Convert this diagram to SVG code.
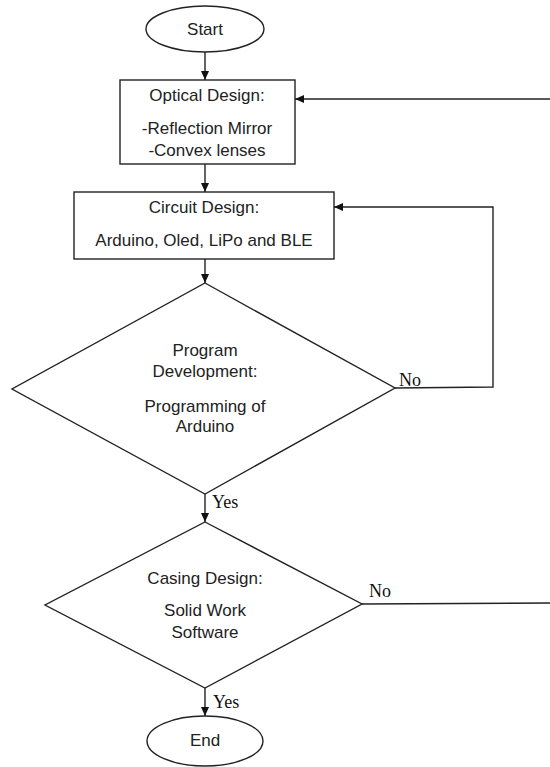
<svg xmlns="http://www.w3.org/2000/svg" width="550" height="767" viewBox="0 0 550 767">
<style>
.shape{fill:#fff;stroke:#222;stroke-width:1.4}
.t{font-family:"Liberation Sans",Arial,sans-serif;font-size:17px;fill:#222;text-anchor:middle}
.lbl{font-family:"Liberation Serif","Times New Roman",serif;font-size:18px;fill:#111}
.c{fill:none;stroke:#222;stroke-width:1.4}
</style>
<defs>
<marker id="ah" markerUnits="userSpaceOnUse" markerWidth="10" markerHeight="10" refX="9" refY="5" orient="auto">
<path d="M0,1 L9,5 L0,9 Z" fill="#111"/>
</marker>
</defs>
<rect width="550" height="767" fill="#fff"/>
<g id="connectors">
<line class="c" x1="205" y1="52" x2="205" y2="80" marker-end="url(#ah)"/>
<line class="c" x1="205" y1="164" x2="205" y2="192" marker-end="url(#ah)"/>
<line class="c" x1="205" y1="259" x2="205" y2="283" marker-end="url(#ah)"/>
<line class="c" x1="205" y1="494" x2="205" y2="522" marker-end="url(#ah)"/>
<line class="c" x1="205" y1="688" x2="205" y2="716" marker-end="url(#ah)"/>
<polyline class="c" points="395,388 493,387 493,207 334,207" marker-end="url(#ah)"/>
<line class="c" x1="362" y1="604" x2="550" y2="603"/>
<line class="c" x1="550" y1="99" x2="295" y2="99" marker-end="url(#ah)"/>
<text class="lbl" x="399" y="386">No</text>
<text class="lbl" x="369" y="597">No</text>
<text class="lbl" x="212" y="508">Yes</text>
<text class="lbl" x="213" y="708">Yes</text>
</g>
<g id="start">
<ellipse class="shape" cx="205" cy="29" rx="59" ry="23"/>
<text class="t" x="205" y="35">Start</text>
</g>
<g id="optical">
<rect class="shape" x="120" y="80" width="175" height="84"/>
<text class="t" x="207" y="101">Optical Design:</text>
<text class="t" x="207" y="134">-Reflection Mirror</text>
<text class="t" x="207" y="156">-Convex lenses</text>
</g>
<g id="circuit">
<rect class="shape" x="74" y="192" width="260" height="67"/>
<text class="t" x="204" y="213">Circuit Design:</text>
<text class="t" x="204" y="246">Arduino, Oled, LiPo and BLE</text>
</g>
<g id="program">
<polygon class="shape" points="205,283 395,388 205,494 12,389"/>
<text class="t" x="205" y="356">Program</text>
<text class="t" x="205" y="377">Development:</text>
<text class="t" x="205" y="412">Programming of</text>
<text class="t" x="205" y="432">Arduino</text>
</g>
<g id="casing">
<polygon class="shape" points="205,522 362,604 205,688 45,605"/>
<text class="t" x="205" y="584">Casing Design:</text>
<text class="t" x="205" y="616">Solid Work</text>
<text class="t" x="205" y="638">Software</text>
</g>
<g id="end">
<ellipse class="shape" cx="205" cy="741" rx="58" ry="25"/>
<text class="t" x="205" y="746">End</text>
</g>
</svg>
